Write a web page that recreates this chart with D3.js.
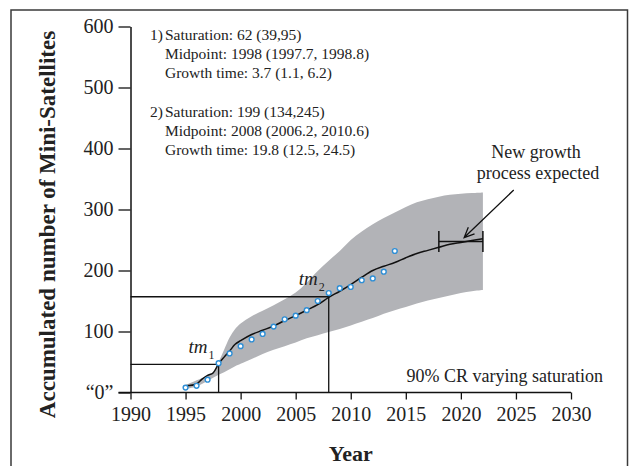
<!DOCTYPE html>
<html>
<head>
<meta charset="utf-8">
<script src="https://cdn.jsdelivr.net/npm/d3@7"></script>
<style>
body{margin:0;background:#fff;}
svg{font-family:"Liberation Serif","Times New Roman",serif;}
</style>
</head>
<body>
<main></main>
<script>
// observed data points (accumulated mini-satellites)
const obsYears=[1995,1996,1997,1998,1999,2000,2001,2002,2003,2004,2005,2006,2007,2008,2009,2010,2011,2012,2013,2014];
const obsValues=[8,11,21,48,64,76,87,96,108,120,126,135,150,163,171,173,184,187,198,232];
// fitted bi-logistic curve
const fitYears=[1995,1996,1996.5,1997,1997.5,1998,1998.5,1999,1999.5,2000,2001,2002,2003,2004,2005,2006,2007,2008,2009,2010,2011,2012,2013,2014,2015,2016,2017,2018,2019,2020,2021,2022];
const fitValues=[11,14,22,28,32,47,58,68,79,85,95,102,109,118,126,135,144,156,166,177,189,200,207,213,221,228,233,238,243,246,249,252];
// 90% CR band
const bandYears=[1995,1996,1997,1997.5,1998,1998.5,1999,1999.5,2000,2001,2002,2003,2004,2005,2006,2007,2008,2009,2010,2011,2012,2013,2014,2015,2016,2017,2018,2019,2020,2021,2022];
const bandUpper=[12,20,28,34,50,70,90,104,113,125,134,143,153,164,180,199,216,232,250,264,276,286,295,304,312,317,321,324,326,327,328];
const bandLower=[6,10,19,24,29,33,38,43,47,55,63,70,76,82,89,94,99,104,110,116,122,129,135,140,146,151,155,159,163,166,168];
// midpoints tm1, tm2
const midYears=[1998,2008];
const midValues=[46,157];
const xTicks=[1990,1995,2000,2005,2010,2015,2020,2025,2030];
const yTicks=[0,100,200,300,400,500,600];
const yTickLabels=["\u201C0\u201D","100","200","300","400","500","600"];
const noteLines1=["Saturation: 62 (39,95)","Midpoint: 1998 (1997.7, 1998.8)","Growth time: 3.7 (1.1, 6.2)"];
const noteLines2=["Saturation: 199 (134,245)","Midpoint: 2008 (2006.2, 2010.6)","Growth time: 19.8 (12.5, 24.5)"];
// expected new growth bracket
const bracketYears=[2018,2022];
const bracketValue=247.5;
const arrowFrom=[2024.8,332];
const arrowTo=[2020.3,254];

const w=629,h=466;
const x0=130.5,x1=571,yTop=26.5,yBot=392.5;

const svg=d3.select("main").append("svg").attr("width",w).attr("height",h);

const xScale=d3.scaleLinear().domain([1990,2030]).range([x0,x1]);
const yScale=d3.scaleLinear().domain([0,600]).range([yBot,yTop]);

// frame
svg.append("rect")
   .attr("x",11).attr("y",10).attr("width",616.5).attr("height",480)
   .attr("fill","none").attr("stroke","#3a3a3a").attr("stroke-width",1.5);

// band
const band=bandYears.map((d,i)=>({x:d,lo:bandLower[i],hi:bandUpper[i]}));
svg.append("path")
   .datum(band)
   .attr("fill","#b2b3b7")
   .attr("d",d3.area().curve(d3.curveCatmullRom)
       .x(d=>xScale(d.x)).y0(d=>yScale(d.lo)).y1(d=>yScale(d.hi)));

// midpoint guide lines
midYears.forEach((yr,i)=>{
  svg.append("path")
     .attr("fill","none").attr("stroke","#111").attr("stroke-width",1.3)
     .attr("d","M"+x0+","+yScale(midValues[i])+"H"+xScale(yr)+"V"+yBot);
});

// fitted curve
svg.append("path")
   .datum(fitYears.map((d,i)=>[d,fitValues[i]]))
   .attr("fill","none").attr("stroke","#111").attr("stroke-width",1.5)
   .attr("d",d3.line().curve(d3.curveCatmullRom).x(d=>xScale(d[0])).y(d=>yScale(d[1])));

// points
svg.selectAll("circle.obs")
   .data(obsYears.map((d,i)=>[d,obsValues[i]]))
   .enter().append("circle")
   .attr("class","obs")
   .attr("cx",d=>xScale(d[0])).attr("cy",d=>yScale(d[1]))
   .attr("r",2.4)
   .attr("fill","#fff").attr("stroke","#2f8fd6").attr("stroke-width",1.4);

// axes
const xAxis=d3.axisBottom(xScale).tickValues(xTicks).tickFormat(d3.format("d")).tickSize(7).tickSizeOuter(0);
const gx=svg.append("g").attr("transform","translate(0,"+yBot+")").call(xAxis);
gx.select(".domain").attr("d","M"+(x0-12)+",0H"+x1).attr("stroke","#111").attr("stroke-width",1.5);
gx.selectAll(".tick line").attr("stroke","#111").attr("stroke-width",1.3);
gx.selectAll(".tick text").attr("font-size","20px").attr("font-family","Liberation Serif").attr("fill","#222").attr("dy","1.05em").attr("y",7);

const yAxis=d3.axisLeft(yScale).tickValues(yTicks).tickFormat((d,i)=>yTickLabels[i]).tickSize(12).tickSizeOuter(0).tickPadding(5);
const gy=svg.append("g").attr("transform","translate("+x0+",0)").call(yAxis);
gy.select(".domain").attr("stroke","#111").attr("stroke-width",1.5);
gy.selectAll(".tick line").attr("stroke","#111").attr("stroke-width",1.3);
gy.selectAll(".tick text").attr("font-size","20px").attr("font-family","Liberation Serif").attr("fill","#222");

// axis titles
svg.append("text")
   .attr("transform","translate(47,"+((yTop+yBot)/2+15)+") rotate(-90)")
   .attr("text-anchor","middle").attr("dy","0.35em")
   .attr("font-weight","bold").attr("font-size","23px").attr("fill","#222")
   .text("Accumulated number of Mini-Satellites");
svg.append("text")
   .attr("x",(x0+x1)/2).attr("y",461)
   .attr("text-anchor","middle")
   .attr("font-weight","bold").attr("font-size","22px").attr("fill","#222")
   .text("Year");

// parameter notes
const notes=svg.append("g").attr("font-size","15.5px").attr("fill","#222");
[[noteLines1,39.5,"1)"],[noteLines2,116.5,"2)"]].forEach(([lines,y,num])=>{
  notes.append("text").attr("x",150).attr("y",y).text(num);
  lines.forEach((t,i)=>{
    notes.append("text").attr("x",165).attr("y",y+i*19.3).text(t);
  });
});

// tm labels
midYears.forEach((yr,i)=>{
  const t=svg.append("text")
     .attr("x",xScale(yr)-30).attr("y",yScale(midValues[i])-11.5)
     .attr("font-size","19px").attr("font-style","italic").attr("fill","#222");
  t.append("tspan").text("tm");
  t.append("tspan").attr("font-style","normal").attr("font-size","12px").attr("dx",1).attr("dy",6).text(i+1);
});

// bracket
const by=yScale(bracketValue);
svg.append("path")
   .attr("fill","none").attr("stroke","#111").attr("stroke-width",1.5)
   .attr("d","M"+xScale(bracketYears[0])+","+by+"H"+xScale(bracketYears[1])
      +"M"+xScale(bracketYears[0])+","+(by-10.5)+"v21"
      +"M"+xScale(bracketYears[1])+","+(by-10.5)+"v21");

// arrow
const ax0=xScale(arrowFrom[0]),ay0=yScale(arrowFrom[1]),ax1=xScale(arrowTo[0]),ay1=yScale(arrowTo[1]);
const ang=Math.atan2(ay1-ay0,ax1-ax0);
const hl=11,ha=0.42;
svg.append("path")
   .attr("fill","none").attr("stroke","#111").attr("stroke-width",1.3)
   .attr("d","M"+ax0+","+ay0+"L"+ax1+","+ay1
      +"M"+(ax1-hl*Math.cos(ang-ha))+","+(ay1-hl*Math.sin(ang-ha))+"L"+ax1+","+ay1
      +"L"+(ax1-hl*Math.cos(ang+ha))+","+(ay1-hl*Math.sin(ang+ha)));

svg.append("text").attr("x",536).attr("y",157.5).attr("text-anchor","middle")
   .attr("font-size","18px").attr("fill","#222").text("New growth");
svg.append("text").attr("x",538).attr("y",178.5).attr("text-anchor","middle")
   .attr("font-size","18px").attr("fill","#222").text("process expected");

svg.append("text").attr("x",603).attr("y",381.5).attr("text-anchor","end")
   .attr("font-size","18px").attr("fill","#222").text("90% CR varying saturation");
</script>
</body>
</html>
